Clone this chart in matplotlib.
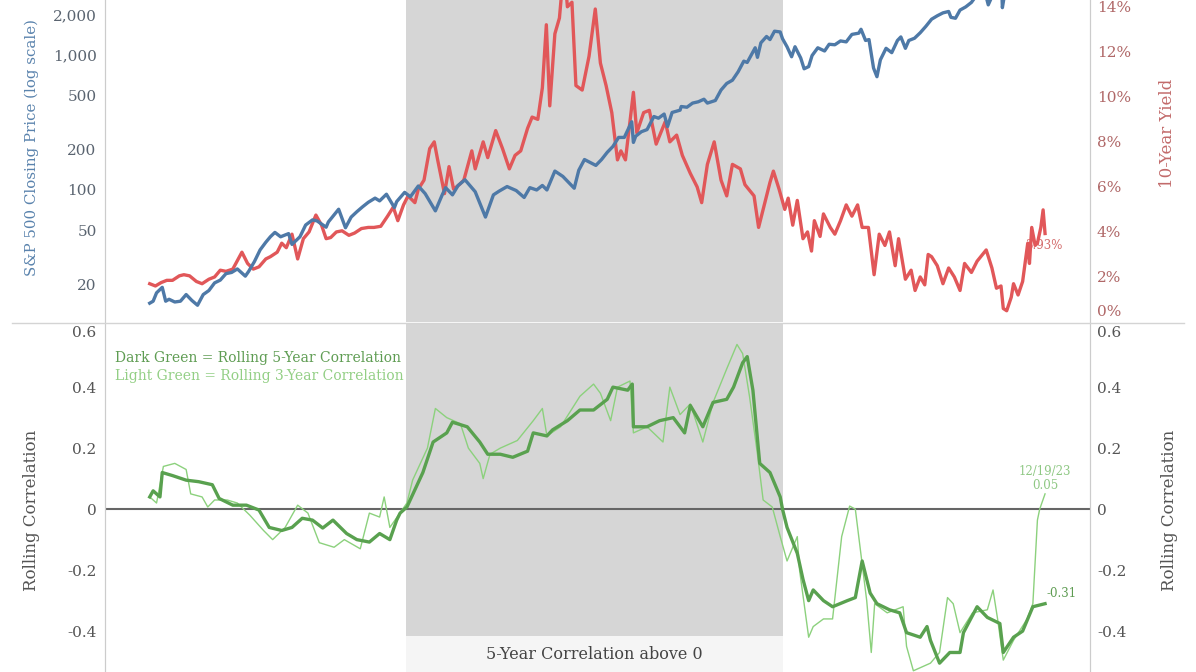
import matplotlib
matplotlib.use('Agg')
import matplotlib.pyplot as plt
from matplotlib.lines import Line2D

# S&P 500 closing price (log scale)
sp_years = [1945.3, 1945.6, 1945.9, 1946.4, 1946.7, 1947.0, 1947.5, 1948.0, 1948.5, 1949.0,
            1949.5, 1950.0, 1950.5, 1951.0, 1951.5, 1952.0, 1952.5, 1953.0, 1953.7, 1954.0,
            1954.5, 1955.0, 1955.5, 1955.9, 1956.3, 1956.8, 1957.5, 1957.8, 1958.5, 1959.0,
            1959.6, 1960.0, 1960.8, 1961.0, 1961.9, 1962.5, 1963.0, 1963.5, 1964.0, 1964.5,
            1965.1, 1965.5, 1966.1, 1966.8, 1967.0, 1967.7, 1968.2, 1968.9, 1969.5, 1970.4,
            1971.0, 1971.3, 1971.9, 1972.4, 1973.0, 1973.6, 1973.9, 1974.8, 1975.5, 1976.0,
            1976.7, 1977.5, 1978.2, 1978.7, 1979.3, 1979.8, 1980.2, 1980.9, 1981.6, 1982.6,
            1983.0, 1983.5, 1984.5, 1985.0, 1985.5, 1986.0, 1986.5, 1987.0, 1987.65, 1987.8,
            1988.0, 1988.5, 1989.0, 1989.6, 1990.0, 1990.5, 1990.8, 1991.2, 1991.9, 1992.0,
            1992.5, 1993.0, 1993.5, 1994.0, 1994.3, 1995.0, 1995.5, 1996.0, 1996.5, 1997.0,
            1997.5, 1997.8, 1998.5, 1998.7, 1999.0, 1999.5, 1999.8, 2000.2, 2000.7, 2000.9,
            2001.3, 2001.7, 2002.0, 2002.5, 2002.8, 2003.2, 2003.5, 2004.0, 2004.6, 2005.0,
            2005.5, 2006.0, 2006.5, 2007.0, 2007.6, 2007.8, 2008.2, 2008.5, 2008.9, 2009.2,
            2009.5, 2010.0, 2010.5, 2011.0, 2011.3, 2011.7, 2012.0, 2012.5, 2013.0, 2013.5,
            2014.0, 2014.5, 2015.0, 2015.5, 2015.7, 2016.1, 2016.5, 2017.0, 2017.5, 2018.0,
            2018.1, 2018.7, 2018.98, 2019.5, 2020.0, 2020.15, 2020.22, 2020.5, 2021.0, 2021.5,
            2022.0, 2022.5, 2022.8, 2023.5, 2023.8, 2023.97]
sp_close = [14.5, 15.0, 17.3, 19.0, 15.0, 15.5, 14.8, 15.0, 16.8, 15.2,
            14.0, 16.8, 18.0, 20.5, 21.5, 24.0, 24.5, 26.0, 23.0, 25.0,
            29.5, 36.0, 41.0, 45.0, 48.5, 45.0, 47.5, 39.5, 45.0, 55.0,
            60.0, 59.0, 53.0, 58.0, 72.0, 52.5, 63.0, 69.0, 75.0, 81.0,
            87.0, 83.0, 93.0, 74.0, 82.0, 96.0, 89.0, 107.0, 94.0, 70.0,
            92.0, 104.0, 92.0, 108.0, 119.0, 104.0, 97.0, 63.0, 92.0, 98.0,
            106.0, 99.0, 88.0, 104.0, 100.0, 108.0, 100.0, 138.0, 126.0, 103.0,
            140.0, 168.0, 152.0, 168.0, 190.0, 210.0, 245.0, 245.0, 320.0, 225.0,
            250.0, 270.0, 280.0, 350.0, 340.0, 365.0, 295.0, 375.0, 390.0, 415.0,
            410.0, 440.0, 450.0, 470.0, 440.0, 460.0, 550.0, 615.0, 650.0, 750.0,
            900.0, 880.0, 1130.0, 960.0, 1230.0, 1370.0, 1300.0, 1500.0, 1480.0, 1320.0,
            1150.0, 970.0, 1150.0, 950.0, 790.0, 820.0, 990.0, 1130.0, 1070.0, 1200.0,
            1190.0, 1270.0, 1250.0, 1420.0, 1450.0, 1550.0, 1280.0, 1300.0, 800.0, 690.0,
            920.0, 1120.0, 1040.0, 1280.0, 1360.0, 1120.0, 1280.0, 1330.0, 1460.0, 1630.0,
            1840.0, 1950.0, 2050.0, 2100.0, 1900.0, 1870.0, 2150.0, 2270.0, 2450.0, 2800.0,
            2600.0, 2900.0, 2350.0, 2950.0, 3250.0, 3380.0, 2240.0, 3100.0, 3750.0, 4300.0,
            4750.0, 3700.0, 3580.0, 4450.0, 4120.0, 4768.0]

# 10-year Treasury yield (%)
yld_years = [1945.3, 1945.8, 1946.3, 1946.8, 1947.3, 1947.9, 1948.3, 1948.8, 1949.4, 1949.9,
             1950.5, 1951.0, 1951.5, 1952.0, 1952.6, 1953.4, 1953.9, 1954.4, 1954.9, 1955.5,
             1955.9, 1956.5, 1956.9, 1957.3, 1957.8, 1958.3, 1958.8, 1959.3, 1959.9, 1960.4,
             1960.8, 1961.2, 1961.7, 1962.2, 1962.8, 1963.3, 1963.9, 1964.5, 1965.0, 1965.6,
             1966.2, 1966.7, 1967.1, 1967.6, 1968.0, 1968.6, 1968.9, 1969.4, 1969.9, 1970.3,
             1970.6, 1971.2, 1971.6, 1972.0, 1972.5, 1972.9, 1973.6, 1973.9, 1974.6, 1975.0,
             1975.7, 1976.3, 1976.9, 1977.4, 1977.9, 1978.5, 1978.9, 1979.4, 1979.8, 1980.15,
             1980.45, 1980.9, 1981.3, 1981.7, 1982.0, 1982.4, 1982.75, 1983.3, 1983.9, 1984.45,
             1984.9, 1985.4, 1985.9, 1986.4, 1986.7, 1987.1, 1987.8, 1988.1, 1988.7, 1989.2,
             1989.8, 1990.6, 1991.0, 1991.6, 1992.1, 1992.8, 1993.4, 1993.8, 1994.3, 1994.9,
             1995.5, 1996.0, 1996.5, 1997.2, 1997.6, 1998.4, 1998.8, 1999.3, 1999.8, 2000.1,
             2000.6, 2001.1, 2001.4, 2001.8, 2002.2, 2002.7, 2003.1, 2003.45, 2003.7, 2004.2,
             2004.5, 2005.1, 2005.5, 2006.0, 2006.5, 2007.0, 2007.5, 2007.9, 2008.45, 2008.95,
             2009.4, 2009.9, 2010.3, 2010.8, 2011.1, 2011.7, 2012.2, 2012.55, 2013.0, 2013.4,
             2013.7, 2014.0, 2014.5, 2015.0, 2015.5, 2016.0, 2016.5, 2016.9, 2017.5, 2018.0,
             2018.8, 2019.3, 2019.7, 2020.1, 2020.3, 2020.6, 2021.0, 2021.2, 2021.6, 2022.0,
             2022.45, 2022.6, 2022.8, 2023.1, 2023.3, 2023.6, 2023.8, 2023.97]
yld_pct = [1.7, 1.6, 1.75, 1.85, 1.85, 2.05, 2.1, 2.05, 1.8, 1.7,
           1.9, 2.0, 2.3, 2.25, 2.35, 3.1, 2.6, 2.35, 2.45, 2.8,
           2.9, 3.1, 3.5, 3.3, 3.9, 2.8, 3.7, 4.0, 4.75, 4.3,
           3.7, 3.75, 4.0, 4.05, 3.85, 3.95, 4.15, 4.2, 4.2, 4.25,
           4.7, 5.1, 4.5, 5.2, 5.6, 5.3, 5.9, 6.3, 7.7, 8.0,
           7.2, 5.7, 6.9, 5.9, 6.1, 6.3, 7.6, 6.8, 8.0, 7.3,
           8.5, 7.7, 6.8, 7.4, 7.6, 8.6, 9.1, 9.0, 10.4, 13.2,
           9.6, 12.8, 13.5, 15.8, 14.0, 14.2, 10.5, 10.3, 11.8, 13.9,
           11.5, 10.5, 9.3, 7.2, 7.6, 7.2, 10.2, 8.4, 9.3, 9.4,
           7.9, 8.9, 8.0, 8.3, 7.4, 6.6, 6.0, 5.3, 7.0, 8.0,
           6.3, 5.6, 7.0, 6.8, 6.1, 5.6, 4.2, 5.2, 6.2, 6.7,
           5.9, 5.0, 5.5, 4.3, 5.4, 3.7, 4.0, 3.15, 4.5, 3.8,
           4.8, 4.2, 3.9, 4.5, 5.2, 4.7, 5.2, 4.2, 4.2, 2.1,
           3.9, 3.4, 4.0, 2.5, 3.7, 1.9, 2.3, 1.4, 2.0, 1.65,
           3.0, 2.9, 2.5, 1.7, 2.4, 2.0, 1.4, 2.6, 2.2, 2.7,
           3.2, 2.4, 1.5, 1.6, 0.6, 0.5, 1.1, 1.7, 1.2, 1.8,
           3.5, 2.6, 4.2, 3.4, 3.5, 4.2, 4.98, 3.93]

# rolling 5-year correlation (dark green)
c5_years = [1945.3, 1945.6, 1945.9, 1946.2, 1946.4, 1947.3, 1948.5, 1949.6, 1950.8, 1951.4,
            1952.6, 1953.8, 1954.9, 1955.8, 1956.9, 1957.8, 1958.7, 1959.6, 1960.5, 1961.4,
            1962.6, 1963.5, 1964.6, 1965.5, 1966.4, 1967.0, 1967.3, 1967.9, 1969.3, 1970.2,
            1971.4, 1971.9, 1973.2, 1974.3, 1975.0, 1976.1, 1977.2, 1978.5, 1979.0, 1980.2,
            1980.7, 1982.0, 1983.1, 1984.3, 1985.5, 1986.0, 1987.3, 1987.7, 1987.8, 1989.0,
            1990.1, 1991.3, 1992.3, 1992.8, 1993.9, 1994.8, 1996.0, 1996.6, 1997.4, 1997.8,
            1998.3, 1998.9, 1999.8, 2000.7, 2000.9, 2001.3, 2002.2, 2002.7, 2003.2, 2003.6,
            2004.5, 2005.3, 2006.6, 2007.3, 2007.9, 2008.6, 2009.2, 2010.3, 2011.2, 2011.8,
            2013.0, 2013.6, 2013.9, 2014.7, 2015.6, 2016.5, 2016.8, 2018.0, 2018.9, 2020.0,
            2020.3, 2021.2, 2022.0, 2022.9, 2023.97]
c5_vals = [0.04, 0.06, 0.05, 0.04, 0.12, 0.11, 0.095, 0.09, 0.08, 0.035,
           0.013, 0.013, -0.003, -0.06, -0.07, -0.06, -0.03, -0.036, -0.062, -0.036,
           -0.08, -0.10, -0.108, -0.08, -0.10, -0.036, -0.013, 0.007, 0.12, 0.22,
           0.25, 0.285, 0.27, 0.22, 0.18, 0.18, 0.17, 0.19, 0.25, 0.24,
           0.26, 0.29, 0.325, 0.325, 0.36, 0.40, 0.39, 0.41, 0.27, 0.27,
           0.29, 0.30, 0.25, 0.34, 0.27, 0.35, 0.36, 0.40, 0.48, 0.50,
           0.39, 0.15, 0.12, 0.04, 0.0, -0.06, -0.145, -0.23, -0.30, -0.265,
           -0.30, -0.32, -0.30, -0.29, -0.17, -0.275, -0.31, -0.33, -0.34, -0.405,
           -0.42, -0.385, -0.43, -0.505, -0.47, -0.47, -0.405, -0.32, -0.355, -0.375,
           -0.47, -0.42, -0.40, -0.32, -0.31]

# rolling 3-year correlation (light green)
c3_years = [1945.3, 1945.9, 1946.5, 1947.5, 1948.5, 1948.9, 1949.9, 1950.4, 1951.0, 1952.1,
            1953.0, 1954.1, 1955.3, 1956.1, 1957.2, 1958.3, 1959.2, 1960.2, 1961.5, 1962.4,
            1963.8, 1964.6, 1965.5, 1965.9, 1966.4, 1967.9, 1968.4, 1969.7, 1970.4, 1971.4,
            1972.6, 1973.3, 1974.3, 1974.6, 1975.2, 1976.1, 1977.6, 1979.0, 1979.8, 1980.2,
            1981.4, 1983.1, 1984.3, 1984.9, 1985.8, 1986.4, 1987.5, 1987.8, 1989.0, 1990.4,
            1991.0, 1991.9, 1992.8, 1993.9, 1994.8, 1996.0, 1996.9, 1997.4, 1998.0, 1998.7,
            1999.2, 2000.0, 2000.7, 2001.3, 2002.2, 2002.4, 2003.2, 2003.6, 2004.5, 2005.3,
            2006.1, 2006.8, 2007.3, 2007.7, 2008.3, 2008.7, 2009.0, 2010.1, 2011.5, 2011.8,
            2012.4, 2013.9, 2014.7, 2015.4, 2015.9, 2016.5, 2017.6, 2018.9, 2019.4, 2019.8,
            2020.3, 2021.2, 2022.4, 2022.9, 2023.3, 2023.5, 2023.97]
c3_vals = [0.04, 0.02, 0.14, 0.15, 0.13, 0.05, 0.04, 0.007, 0.03, 0.03,
           0.02, -0.02, -0.07, -0.10, -0.06, 0.013, -0.013, -0.11, -0.125, -0.10,
           -0.13, -0.013, -0.026, 0.04, -0.06, 0.02, 0.095, 0.20, 0.33, 0.30,
           0.28, 0.20, 0.15, 0.10, 0.18, 0.20, 0.225, 0.29, 0.33, 0.24,
           0.27, 0.37, 0.41, 0.38, 0.29, 0.40, 0.42, 0.25, 0.27, 0.22,
           0.40, 0.31, 0.345, 0.22, 0.35, 0.46, 0.54, 0.51, 0.37, 0.18,
           0.03, 0.007, -0.09, -0.17, -0.09, -0.20, -0.42, -0.385, -0.36, -0.36,
           -0.09, 0.01, 0.0, -0.12, -0.30, -0.47, -0.31, -0.34, -0.32, -0.45,
           -0.53, -0.505, -0.47, -0.29, -0.31, -0.405, -0.34, -0.33, -0.265, -0.36,
           -0.495, -0.43, -0.36, -0.31, -0.036, 0.0, 0.05]

shade_start, shade_end = 1967.8, 2000.95

sp_ticks = [20, 50, 100, 200, 500, 1000, 2000]
sp_tick_labels = ['20', '50', '100', '200', '500', '1,000', '2,000']
yld_ticks = [2, 4, 6, 8, 10, 12, 14]
corr_ticks = [-0.4, -0.2, 0, 0.2, 0.4, 0.6]
corr_tick_labels = ['-0.4', '-0.2', '0', '0.2', '0.4', '0.6']

BLUE = '#4e79a7'
RED = '#e15759'
DKGREEN = '#59a14f'
LTGREEN = '#8cd17d'
SHADE = '#d6d6d6'
AXLINE = '#cccccc'

plt.rcParams['font.family'] = ['DejaVu Serif']

W, H = 1196, 672
fig = plt.figure(figsize=(W / 100, H / 100), dpi=100)


def fx(px):
    return px / W


def fy(py):
    return 1 - py / H


left, right = 105, 1090
x_lo, x_hi = 1941.37, 2027.92

ax_y = fig.add_axes([fx(left), fy(322), fx(right) - fx(left), 322 / H])
ax_sp = ax_y.twinx()
ax_sp.yaxis.tick_left()
ax_y.yaxis.tick_right()
ax_sp.set_zorder(ax_y.get_zorder() + 1)
ax_sp.patch.set_visible(False)

# top panel: yield (right) underneath, S&P (left) on top
ax_y.axvspan(shade_start, shade_end, color=SHADE, lw=0, zorder=0)
ax_y.plot(yld_years, yld_pct, color=RED, lw=2.4, zorder=3, solid_joinstyle='round')
ax_y.text(2023.87, 3.4, '3.93%', color='#d36a6a', fontsize=8.5, ha='center', va='center', zorder=2)
ax_y.set_ylim(0, 14.3)
ax_y.set_yticks(yld_ticks)
ax_y.set_yticklabels([f'{t}%' for t in yld_ticks])
ax_y.text(1 + 7 / (right - left), 10 / 322, '0%', transform=ax_y.transAxes,
          ha='left', va='center', fontsize=11, color='#b06868')

ax_sp.plot(sp_years, sp_close, color=BLUE, lw=2.4, solid_joinstyle='round')
ax_sp.set_yscale('log')
ax_sp.set_ylim(10.52, 2553)
ax_sp.set_yticks(sp_ticks)
ax_sp.set_yticklabels(sp_tick_labels)
ax_sp.minorticks_off()

for a in (ax_y, ax_sp):
    a.set_xlim(x_lo, x_hi)
    a.set_xticks([])
    for s in ('top', 'bottom'):
        a.spines[s].set_visible(False)
    a.spines['left'].set_color(AXLINE)
    a.spines['right'].set_color(AXLINE)

ax_sp.tick_params(axis='y', length=0, pad=6, labelsize=11, labelcolor='#5a6470', which='both')
ax_y.tick_params(axis='y', length=0, pad=5, labelsize=11, labelcolor='#b06868')

# bottom panel: rolling correlations
ax_c = fig.add_axes([fx(left), 0, fx(right) - fx(left), 348 / H])
ax_c.axvspan(shade_start, shade_end, color=SHADE, lw=0, zorder=0)
ax_c.axvspan(shade_start, shade_end, ymin=0, ymax=36 / 348, color='#f5f5f5', lw=0, zorder=1)
ax_c.axhline(0, color='#666666', lw=1.5, zorder=2)
ax_c.plot(c3_years, c3_vals, color=LTGREEN, lw=1.0, zorder=3)
ax_c.plot(c5_years, c5_vals, color=DKGREEN, lw=2.4, zorder=4, solid_joinstyle='round')
ax_c.set_xlim(x_lo, x_hi)
ax_c.set_ylim(-0.534, 0.607)
ax_c.set_xticks([])
ax_c.set_yticks(corr_ticks)
ax_c.set_yticklabels(corr_tick_labels)
ax_c.tick_params(axis='y', length=0, pad=6, labelsize=11, labelcolor='#555555')
ax_c.yaxis.get_ticklabels()[-1].set_va('top')

ax_c2 = ax_c.twinx()
ax_c2.set_ylim(ax_c.get_ylim())
ax_c2.set_yticks(corr_ticks)
ax_c2.set_yticklabels(corr_tick_labels)
ax_c2.tick_params(axis='y', length=0, pad=5, labelsize=11, labelcolor='#555555')
ax_c2.yaxis.get_ticklabels()[-1].set_va('top')

for a in (ax_c, ax_c2):
    for s in ('top', 'bottom'):
        a.spines[s].set_visible(False)
    a.spines['left'].set_color(AXLINE)
    a.spines['right'].set_color(AXLINE)

ax_c.text(0.5 * (shade_start + shade_end), -0.475, '5-Year Correlation above 0',
          ha='center', va='center', fontsize=11.5, color='#444444', zorder=5)
ax_c.text(2023.97, 0.102, '12/19/23\n0.05', ha='center', va='center', fontsize=8.5,
          color='#8fc884', linespacing=1.1, zorder=5)
ax_c.text(2024.1, -0.275, '-0.31', ha='left', va='center', fontsize=8.5,
          color='#5e9c52', zorder=5)

fig.text(fx(115), fy(358), 'Dark Green = Rolling 5-Year Correlation', ha='left', va='center',
         fontsize=10, color='#5e9c52')
fig.text(fx(115), fy(376), 'Light Green = Rolling 3-Year Correlation', ha='left', va='center',
         fontsize=10, color='#93cf85')

# axis titles
fig.text(fx(32), fy(276), 'S&P 500 Closing Price (log scale)', rotation=90, ha='center',
         va='bottom', fontsize=10.8, color='#5a83ad')
fig.text(fx(1167), fy(133), '10-Year Yield', rotation=90, ha='center', va='center',
         fontsize=12, color='#c26a6a')
fig.text(fx(32), fy(510), 'Rolling Correlation', rotation=90, ha='center', va='center',
         fontsize=12, color='#555555')
fig.text(fx(1169), fy(510), 'Rolling Correlation', rotation=90, ha='center', va='center',
         fontsize=12, color='#555555')

# separator between the panels
fig.add_artist(Line2D([fx(12), fx(1184)], [fy(323), fy(323)], color='#d4d4d4', lw=1,
                      transform=fig.transFigure))

fig.savefig('out.png', dpi=100)
